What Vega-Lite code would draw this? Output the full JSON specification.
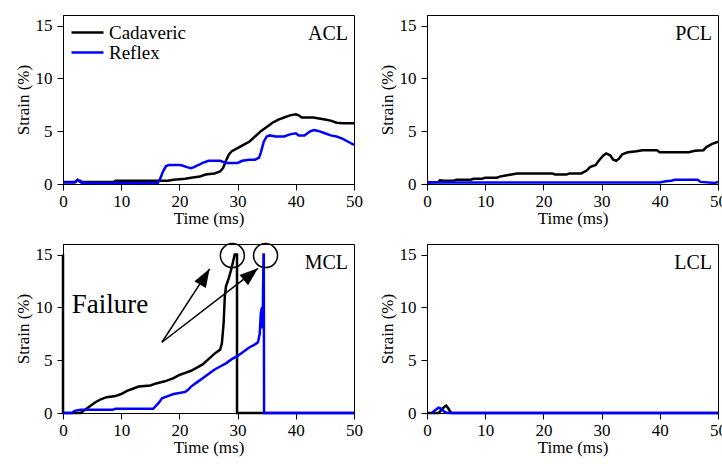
{
  "$schema": "https://vega.github.io/schema/vega-lite/v6.json",
  "background": "white",
  "autosize": {"type": "none"},
  "padding": {"left": 63, "top": 15, "right": 659, "bottom": 449},
  "config": {
    "font": "Liberation Serif",
    "view": {"stroke": "black", "strokeWidth": 1},
    "axis": {
      "grid": false, "labelFlush": false, "labelOverlap": false, "domainColor": "black", "tickColor": "black", "tickSize": 6,
      "labelFont": "Liberation Serif", "labelFontSize": 17, "labelColor": "black",
      "titleFont": "Liberation Serif", "titleFontSize": 17, "titleFontWeight": "normal", "titleColor": "black"
    },
    "axisX": {"labelPadding": 3, "titlePadding": 1},
    "axisY": {"labelPadding": 5, "titlePadding": 3},
    "style": {
      "guide-label": {"font": "Liberation Serif", "fontSize": 17, "fill": "black"},
      "guide-title": {"font": "Liberation Serif", "fontSize": 17, "fontWeight": "normal", "fill": "black"}
    }
  },
  "datasets": {
    "strain": [
      {"lig":"ACL","grp":"Cadaveric","t":0,"s":0.2},{"lig":"ACL","grp":"Cadaveric","t":2.2,"s":0.2},{"lig":"ACL","grp":"Cadaveric","t":2.5,"s":0.4},{"lig":"ACL","grp":"Cadaveric","t":3,"s":0.2},{"lig":"ACL","grp":"Cadaveric","t":8.8,"s":0.2},{"lig":"ACL","grp":"Cadaveric","t":9,"s":0.3},{"lig":"ACL","grp":"Cadaveric","t":18,"s":0.3},{"lig":"ACL","grp":"Cadaveric","t":19,"s":0.4},{"lig":"ACL","grp":"Cadaveric","t":21,"s":0.5},{"lig":"ACL","grp":"Cadaveric","t":22,"s":0.6},{"lig":"ACL","grp":"Cadaveric","t":23.5,"s":0.7},{"lig":"ACL","grp":"Cadaveric","t":24.5,"s":0.9},{"lig":"ACL","grp":"Cadaveric","t":26,"s":1.0},{"lig":"ACL","grp":"Cadaveric","t":27,"s":1.2},{"lig":"ACL","grp":"Cadaveric","t":27.5,"s":1.5},{"lig":"ACL","grp":"Cadaveric","t":28,"s":2.2},{"lig":"ACL","grp":"Cadaveric","t":28.5,"s":2.8},{"lig":"ACL","grp":"Cadaveric","t":29,"s":3.1},{"lig":"ACL","grp":"Cadaveric","t":30,"s":3.4},{"lig":"ACL","grp":"Cadaveric","t":31,"s":3.7},{"lig":"ACL","grp":"Cadaveric","t":32,"s":4.0},{"lig":"ACL","grp":"Cadaveric","t":33,"s":4.5},{"lig":"ACL","grp":"Cadaveric","t":34,"s":5.0},{"lig":"ACL","grp":"Cadaveric","t":35,"s":5.4},{"lig":"ACL","grp":"Cadaveric","t":36,"s":5.8},{"lig":"ACL","grp":"Cadaveric","t":37,"s":6.1},{"lig":"ACL","grp":"Cadaveric","t":38,"s":6.3},{"lig":"ACL","grp":"Cadaveric","t":39,"s":6.5},{"lig":"ACL","grp":"Cadaveric","t":40,"s":6.6},{"lig":"ACL","grp":"Cadaveric","t":40.5,"s":6.5},{"lig":"ACL","grp":"Cadaveric","t":41,"s":6.3},{"lig":"ACL","grp":"Cadaveric","t":43,"s":6.3},{"lig":"ACL","grp":"Cadaveric","t":44,"s":6.2},{"lig":"ACL","grp":"Cadaveric","t":45,"s":6.1},{"lig":"ACL","grp":"Cadaveric","t":46,"s":6.0},{"lig":"ACL","grp":"Cadaveric","t":47,"s":5.8},{"lig":"ACL","grp":"Cadaveric","t":48,"s":5.75},{"lig":"ACL","grp":"Cadaveric","t":50,"s":5.75},
      {"lig":"ACL","grp":"Reflex","t":0,"s":0.15},{"lig":"ACL","grp":"Reflex","t":2,"s":0.15},{"lig":"ACL","grp":"Reflex","t":2.3,"s":0.3},{"lig":"ACL","grp":"Reflex","t":3,"s":0.3},{"lig":"ACL","grp":"Reflex","t":3.2,"s":0.1},{"lig":"ACL","grp":"Reflex","t":16.3,"s":0.1},{"lig":"ACL","grp":"Reflex","t":16.7,"s":0.5},{"lig":"ACL","grp":"Reflex","t":17.2,"s":1.2},{"lig":"ACL","grp":"Reflex","t":17.7,"s":1.7},{"lig":"ACL","grp":"Reflex","t":18.2,"s":1.8},{"lig":"ACL","grp":"Reflex","t":20,"s":1.8},{"lig":"ACL","grp":"Reflex","t":20.5,"s":1.75},{"lig":"ACL","grp":"Reflex","t":21.3,"s":1.6},{"lig":"ACL","grp":"Reflex","t":22,"s":1.5},{"lig":"ACL","grp":"Reflex","t":22.5,"s":1.6},{"lig":"ACL","grp":"Reflex","t":23.3,"s":1.8},{"lig":"ACL","grp":"Reflex","t":24,"s":2.0},{"lig":"ACL","grp":"Reflex","t":25,"s":2.2},{"lig":"ACL","grp":"Reflex","t":27,"s":2.2},{"lig":"ACL","grp":"Reflex","t":27.5,"s":2.1},{"lig":"ACL","grp":"Reflex","t":28,"s":2.0},{"lig":"ACL","grp":"Reflex","t":30,"s":2.0},{"lig":"ACL","grp":"Reflex","t":30.8,"s":2.2},{"lig":"ACL","grp":"Reflex","t":32,"s":2.3},{"lig":"ACL","grp":"Reflex","t":33,"s":2.3},{"lig":"ACL","grp":"Reflex","t":33.7,"s":2.5},{"lig":"ACL","grp":"Reflex","t":34,"s":3.0},{"lig":"ACL","grp":"Reflex","t":34.5,"s":4.0},{"lig":"ACL","grp":"Reflex","t":35,"s":4.5},{"lig":"ACL","grp":"Reflex","t":35.5,"s":4.6},{"lig":"ACL","grp":"Reflex","t":36.5,"s":4.5},{"lig":"ACL","grp":"Reflex","t":38,"s":4.5},{"lig":"ACL","grp":"Reflex","t":39,"s":4.7},{"lig":"ACL","grp":"Reflex","t":40,"s":4.8},{"lig":"ACL","grp":"Reflex","t":40.5,"s":4.6},{"lig":"ACL","grp":"Reflex","t":41.5,"s":4.6},{"lig":"ACL","grp":"Reflex","t":42,"s":4.8},{"lig":"ACL","grp":"Reflex","t":42.5,"s":5.0},{"lig":"ACL","grp":"Reflex","t":43.2,"s":5.1},{"lig":"ACL","grp":"Reflex","t":44,"s":5.0},{"lig":"ACL","grp":"Reflex","t":45,"s":4.8},{"lig":"ACL","grp":"Reflex","t":46,"s":4.6},{"lig":"ACL","grp":"Reflex","t":47,"s":4.5},{"lig":"ACL","grp":"Reflex","t":48,"s":4.3},{"lig":"ACL","grp":"Reflex","t":49,"s":4.0},{"lig":"ACL","grp":"Reflex","t":50,"s":3.7},
      {"lig":"PCL","grp":"Cadaveric","t":0,"s":0.15},{"lig":"PCL","grp":"Cadaveric","t":2,"s":0.2},{"lig":"PCL","grp":"Cadaveric","t":2.2,"s":0.35},{"lig":"PCL","grp":"Cadaveric","t":3,"s":0.3},{"lig":"PCL","grp":"Cadaveric","t":4.5,"s":0.3},{"lig":"PCL","grp":"Cadaveric","t":5,"s":0.4},{"lig":"PCL","grp":"Cadaveric","t":7.5,"s":0.4},{"lig":"PCL","grp":"Cadaveric","t":8,"s":0.5},{"lig":"PCL","grp":"Cadaveric","t":9.5,"s":0.5},{"lig":"PCL","grp":"Cadaveric","t":10,"s":0.6},{"lig":"PCL","grp":"Cadaveric","t":12,"s":0.6},{"lig":"PCL","grp":"Cadaveric","t":12.5,"s":0.7},{"lig":"PCL","grp":"Cadaveric","t":13.5,"s":0.8},{"lig":"PCL","grp":"Cadaveric","t":14.5,"s":0.9},{"lig":"PCL","grp":"Cadaveric","t":15.5,"s":1.0},{"lig":"PCL","grp":"Cadaveric","t":21.5,"s":1.0},{"lig":"PCL","grp":"Cadaveric","t":22,"s":0.9},{"lig":"PCL","grp":"Cadaveric","t":24,"s":0.9},{"lig":"PCL","grp":"Cadaveric","t":24.5,"s":1.0},{"lig":"PCL","grp":"Cadaveric","t":26.5,"s":1.0},{"lig":"PCL","grp":"Cadaveric","t":27.5,"s":1.3},{"lig":"PCL","grp":"Cadaveric","t":28,"s":1.6},{"lig":"PCL","grp":"Cadaveric","t":29,"s":1.8},{"lig":"PCL","grp":"Cadaveric","t":29.5,"s":2.2},{"lig":"PCL","grp":"Cadaveric","t":30.3,"s":2.7},{"lig":"PCL","grp":"Cadaveric","t":30.8,"s":2.9},{"lig":"PCL","grp":"Cadaveric","t":31.5,"s":2.7},{"lig":"PCL","grp":"Cadaveric","t":32,"s":2.3},{"lig":"PCL","grp":"Cadaveric","t":32.5,"s":2.2},{"lig":"PCL","grp":"Cadaveric","t":33,"s":2.4},{"lig":"PCL","grp":"Cadaveric","t":33.5,"s":2.8},{"lig":"PCL","grp":"Cadaveric","t":34.5,"s":3.0},{"lig":"PCL","grp":"Cadaveric","t":36,"s":3.1},{"lig":"PCL","grp":"Cadaveric","t":37,"s":3.2},{"lig":"PCL","grp":"Cadaveric","t":39.5,"s":3.2},{"lig":"PCL","grp":"Cadaveric","t":40,"s":3.0},{"lig":"PCL","grp":"Cadaveric","t":45,"s":3.0},{"lig":"PCL","grp":"Cadaveric","t":46,"s":3.15},{"lig":"PCL","grp":"Cadaveric","t":47.5,"s":3.2},{"lig":"PCL","grp":"Cadaveric","t":48,"s":3.5},{"lig":"PCL","grp":"Cadaveric","t":49,"s":3.8},{"lig":"PCL","grp":"Cadaveric","t":50,"s":4.0},
      {"lig":"PCL","grp":"Reflex","t":0,"s":0.15},{"lig":"PCL","grp":"Reflex","t":40,"s":0.15},{"lig":"PCL","grp":"Reflex","t":41,"s":0.25},{"lig":"PCL","grp":"Reflex","t":42,"s":0.3},{"lig":"PCL","grp":"Reflex","t":42.5,"s":0.4},{"lig":"PCL","grp":"Reflex","t":46.5,"s":0.4},{"lig":"PCL","grp":"Reflex","t":47,"s":0.2},{"lig":"PCL","grp":"Reflex","t":49.5,"s":0.1},{"lig":"PCL","grp":"Reflex","t":50,"s":0.2},
      {"lig":"MCL","grp":"Cadaveric","t":0,"s":15},{"lig":"MCL","grp":"Cadaveric","t":0,"s":0},{"lig":"MCL","grp":"Cadaveric","t":3,"s":0},{"lig":"MCL","grp":"Cadaveric","t":3.5,"s":0.2},{"lig":"MCL","grp":"Cadaveric","t":4.5,"s":0.6},{"lig":"MCL","grp":"Cadaveric","t":5.5,"s":1.0},{"lig":"MCL","grp":"Cadaveric","t":6.5,"s":1.3},{"lig":"MCL","grp":"Cadaveric","t":7.5,"s":1.5},{"lig":"MCL","grp":"Cadaveric","t":9,"s":1.6},{"lig":"MCL","grp":"Cadaveric","t":10,"s":1.8},{"lig":"MCL","grp":"Cadaveric","t":11,"s":2.1},{"lig":"MCL","grp":"Cadaveric","t":12,"s":2.3},{"lig":"MCL","grp":"Cadaveric","t":13,"s":2.5},{"lig":"MCL","grp":"Cadaveric","t":15,"s":2.6},{"lig":"MCL","grp":"Cadaveric","t":16,"s":2.8},{"lig":"MCL","grp":"Cadaveric","t":17.5,"s":3.0},{"lig":"MCL","grp":"Cadaveric","t":19,"s":3.3},{"lig":"MCL","grp":"Cadaveric","t":20,"s":3.6},{"lig":"MCL","grp":"Cadaveric","t":21,"s":3.8},{"lig":"MCL","grp":"Cadaveric","t":22,"s":4.0},{"lig":"MCL","grp":"Cadaveric","t":23,"s":4.3},{"lig":"MCL","grp":"Cadaveric","t":24,"s":4.6},{"lig":"MCL","grp":"Cadaveric","t":25,"s":5.1},{"lig":"MCL","grp":"Cadaveric","t":26,"s":5.6},{"lig":"MCL","grp":"Cadaveric","t":27,"s":6.0},{"lig":"MCL","grp":"Cadaveric","t":27.3,"s":6.6},{"lig":"MCL","grp":"Cadaveric","t":27.6,"s":8.5},{"lig":"MCL","grp":"Cadaveric","t":27.8,"s":11.0},{"lig":"MCL","grp":"Cadaveric","t":28,"s":12.0},{"lig":"MCL","grp":"Cadaveric","t":28.5,"s":12.8},{"lig":"MCL","grp":"Cadaveric","t":29,"s":13.8},{"lig":"MCL","grp":"Cadaveric","t":29.5,"s":15},{"lig":"MCL","grp":"Cadaveric","t":29.9,"s":15},{"lig":"MCL","grp":"Cadaveric","t":29.9,"s":0},{"lig":"MCL","grp":"Cadaveric","t":50,"s":0},
      {"lig":"MCL","grp":"Reflex","t":0,"s":0},{"lig":"MCL","grp":"Reflex","t":1.5,"s":0},{"lig":"MCL","grp":"Reflex","t":2,"s":0.2},{"lig":"MCL","grp":"Reflex","t":3,"s":0.3},{"lig":"MCL","grp":"Reflex","t":8.5,"s":0.3},{"lig":"MCL","grp":"Reflex","t":9,"s":0.4},{"lig":"MCL","grp":"Reflex","t":15.5,"s":0.4},{"lig":"MCL","grp":"Reflex","t":16,"s":0.7},{"lig":"MCL","grp":"Reflex","t":16.5,"s":1.0},{"lig":"MCL","grp":"Reflex","t":17,"s":1.4},{"lig":"MCL","grp":"Reflex","t":18,"s":1.6},{"lig":"MCL","grp":"Reflex","t":19,"s":1.8},{"lig":"MCL","grp":"Reflex","t":20,"s":1.9},{"lig":"MCL","grp":"Reflex","t":21,"s":2.0},{"lig":"MCL","grp":"Reflex","t":21.5,"s":2.2},{"lig":"MCL","grp":"Reflex","t":22,"s":2.5},{"lig":"MCL","grp":"Reflex","t":23,"s":2.9},{"lig":"MCL","grp":"Reflex","t":24,"s":3.3},{"lig":"MCL","grp":"Reflex","t":25,"s":3.7},{"lig":"MCL","grp":"Reflex","t":26,"s":4.1},{"lig":"MCL","grp":"Reflex","t":27,"s":4.4},{"lig":"MCL","grp":"Reflex","t":28,"s":4.7},{"lig":"MCL","grp":"Reflex","t":29,"s":5.1},{"lig":"MCL","grp":"Reflex","t":30,"s":5.4},{"lig":"MCL","grp":"Reflex","t":31,"s":5.8},{"lig":"MCL","grp":"Reflex","t":32,"s":6.2},{"lig":"MCL","grp":"Reflex","t":33,"s":6.5},{"lig":"MCL","grp":"Reflex","t":33.5,"s":6.7},{"lig":"MCL","grp":"Reflex","t":33.8,"s":7.5},{"lig":"MCL","grp":"Reflex","t":34,"s":9.5},{"lig":"MCL","grp":"Reflex","t":34.2,"s":10},{"lig":"MCL","grp":"Reflex","t":34.3,"s":8},{"lig":"MCL","grp":"Reflex","t":34.45,"s":15},{"lig":"MCL","grp":"Reflex","t":34.5,"s":15},{"lig":"MCL","grp":"Reflex","t":34.55,"s":0},{"lig":"MCL","grp":"Reflex","t":50,"s":0},
      {"lig":"LCL","grp":"Cadaveric","t":0,"s":0},{"lig":"LCL","grp":"Cadaveric","t":2,"s":0},{"lig":"LCL","grp":"Cadaveric","t":2.5,"s":0.3},{"lig":"LCL","grp":"Cadaveric","t":3,"s":0.6},{"lig":"LCL","grp":"Cadaveric","t":3.3,"s":0.7},{"lig":"LCL","grp":"Cadaveric","t":3.7,"s":0.4},{"lig":"LCL","grp":"Cadaveric","t":4,"s":0.1},{"lig":"LCL","grp":"Cadaveric","t":4.3,"s":0},{"lig":"LCL","grp":"Cadaveric","t":50,"s":0},
      {"lig":"LCL","grp":"Reflex","t":0.8,"s":0},{"lig":"LCL","grp":"Reflex","t":1.5,"s":0.3},{"lig":"LCL","grp":"Reflex","t":2,"s":0.5},{"lig":"LCL","grp":"Reflex","t":2.5,"s":0.4},{"lig":"LCL","grp":"Reflex","t":3,"s":0.1},{"lig":"LCL","grp":"Reflex","t":3.5,"s":0},{"lig":"LCL","grp":"Reflex","t":50,"s":0}
    ]
  },
  "columns": 2,
  "spacing": {"row": 60, "column": 73},
  "bounds": "flush",
  "resolve": {"scale": {"color": "independent"}, "legend": {"color": "independent"}},
  "concat": [
    {
      "width": 291, "height": 169,
      "layer": [
        {
          "data": {"name": "strain"},
          "transform": [{"filter": "datum.lig === 'ACL'"}],
          "mark": {"type": "line", "strokeWidth": 2.5},
          "encoding": {
            "x": {"field": "t", "type": "quantitative", "scale": {"domain": [0, 50]}, "axis": {"values": [0,10,20,30,40,50], "title": "Time (ms)", "labelFont": "Liberation Serif", "labelFontSize": 17, "titleFont": "Liberation Serif", "titleFontSize": 17, "titleFontWeight": "normal", "encode": {"labels": {"update": {"font": {"value": "Liberation Serif"}, "fontSize": {"value": 17}}}, "title": {"update": {"font": {"value": "Liberation Serif"}, "fontSize": {"value": 17}, "fontWeight": {"value": "normal"}}}}}},
            "y": {"field": "s", "type": "quantitative", "scale": {"domain": [0, 15]}, "axis": {"values": [0,5,10,15], "title": "Strain (%)", "labelFont": "Liberation Serif", "labelFontSize": 17, "titleFont": "Liberation Serif", "titleFontSize": 17, "titleFontWeight": "normal", "encode": {"labels": {"update": {"font": {"value": "Liberation Serif"}, "fontSize": {"value": 17}}}, "title": {"update": {"font": {"value": "Liberation Serif"}, "fontSize": {"value": 17}, "fontWeight": {"value": "normal"}}}}}},
            "color": {"field": "grp", "type": "nominal", "scale": {"domain": ["Cadaveric","Reflex"], "range": ["#000000","#0000ff"]},
              "legend": {"orient": "none", "legendX": 15, "legendY": 8, "title": null, "symbolType": "M-2,0H2", "symbolSize": 256, "symbolStrokeWidth": 2.5, "labelFont": "Liberation Serif", "labelFontSize": 19, "labelColor": "black", "labelOffset": 12, "rowPadding": 0, "padding": 0}},
            "order": {"value": null}
          }
        },
        {
          "data": {"values": [{"name": "ACL"}]},
          "mark": {"type": "text", "font": "Liberation Serif", "fontSize": 20, "align": "right", "baseline": "middle", "dx": -6, "dy": 8, "color": "black"},
          "encoding": {"x": {"datum": 50, "type": "quantitative"}, "y": {"datum": 15, "type": "quantitative"}, "text": {"field": "name"}}
        }
      ]
    },
    {
      "width": 291, "height": 169,
      "layer": [
        {
          "data": {"name": "strain"},
          "transform": [{"filter": "datum.lig === 'PCL'"}],
          "mark": {"type": "line", "strokeWidth": 2.5},
          "encoding": {
            "x": {"field": "t", "type": "quantitative", "scale": {"domain": [0, 50]}, "axis": {"values": [0,10,20,30,40,50], "title": "Time (ms)", "labelFont": "Liberation Serif", "labelFontSize": 17, "titleFont": "Liberation Serif", "titleFontSize": 17, "titleFontWeight": "normal", "encode": {"labels": {"update": {"font": {"value": "Liberation Serif"}, "fontSize": {"value": 17}}}, "title": {"update": {"font": {"value": "Liberation Serif"}, "fontSize": {"value": 17}, "fontWeight": {"value": "normal"}}}}}},
            "y": {"field": "s", "type": "quantitative", "scale": {"domain": [0, 15]}, "axis": {"values": [0,5,10,15], "title": "Strain (%)", "labelFont": "Liberation Serif", "labelFontSize": 17, "titleFont": "Liberation Serif", "titleFontSize": 17, "titleFontWeight": "normal", "encode": {"labels": {"update": {"font": {"value": "Liberation Serif"}, "fontSize": {"value": 17}}}, "title": {"update": {"font": {"value": "Liberation Serif"}, "fontSize": {"value": 17}, "fontWeight": {"value": "normal"}}}}}},
            "color": {"field": "grp", "type": "nominal", "scale": {"domain": ["Cadaveric","Reflex"], "range": ["#000000","#0000ff"]}, "legend": null},
            "order": {"value": null}
          }
        },
        {
          "data": {"values": [{"name": "PCL"}]},
          "mark": {"type": "text", "font": "Liberation Serif", "fontSize": 20, "align": "right", "baseline": "middle", "dx": -6, "dy": 8, "color": "black"},
          "encoding": {"x": {"datum": 50, "type": "quantitative"}, "y": {"datum": 15, "type": "quantitative"}, "text": {"field": "name"}}
        }
      ]
    },
    {
      "width": 291, "height": 169,
      "layer": [
        {
          "data": {"name": "strain"},
          "transform": [{"filter": "datum.lig === 'MCL'"}],
          "mark": {"type": "line", "strokeWidth": 2.5},
          "encoding": {
            "x": {"field": "t", "type": "quantitative", "scale": {"domain": [0, 50]}, "axis": {"values": [0,10,20,30,40,50], "title": "Time (ms)", "labelFont": "Liberation Serif", "labelFontSize": 17, "titleFont": "Liberation Serif", "titleFontSize": 17, "titleFontWeight": "normal", "encode": {"labels": {"update": {"font": {"value": "Liberation Serif"}, "fontSize": {"value": 17}}}, "title": {"update": {"font": {"value": "Liberation Serif"}, "fontSize": {"value": 17}, "fontWeight": {"value": "normal"}}}}}},
            "y": {"field": "s", "type": "quantitative", "scale": {"domain": [0, 15]}, "axis": {"values": [0,5,10,15], "title": "Strain (%)", "labelFont": "Liberation Serif", "labelFontSize": 17, "titleFont": "Liberation Serif", "titleFontSize": 17, "titleFontWeight": "normal", "encode": {"labels": {"update": {"font": {"value": "Liberation Serif"}, "fontSize": {"value": 17}}}, "title": {"update": {"font": {"value": "Liberation Serif"}, "fontSize": {"value": 17}, "fontWeight": {"value": "normal"}}}}}},
            "color": {"field": "grp", "type": "nominal", "scale": {"domain": ["Cadaveric","Reflex"], "range": ["#000000","#0000ff"]}, "legend": null},
            "order": {"value": null}
          }
        },
        {
          "data": {"values": [{"name": "MCL"}]},
          "mark": {"type": "text", "font": "Liberation Serif", "fontSize": 20, "align": "right", "baseline": "middle", "dx": -6, "dy": 8, "color": "black"},
          "encoding": {"x": {"datum": 50, "type": "quantitative"}, "y": {"datum": 15, "type": "quantitative"}, "text": {"field": "name"}}
        },
        {
          "data": {"values": [{"t": 1.5, "s": 10.2, "note": "Failure"}]},
          "mark": {"type": "text", "font": "Liberation Serif", "fontSize": 27, "align": "left", "baseline": "middle", "color": "black"},
          "encoding": {"x": {"field": "t", "type": "quantitative"}, "y": {"field": "s", "type": "quantitative"}, "text": {"field": "note"}}
        },
        {
          "data": {"values": [{"t": 17.0, "s": 6.7, "t2": 25.2, "s2": 13.65}, {"t": 17.0, "s": 6.7, "t2": 33.5, "s2": 13.7}]},
          "mark": {"type": "rule", "color": "black", "strokeWidth": 1.5},
          "encoding": {"x": {"field": "t", "type": "quantitative"}, "y": {"field": "s", "type": "quantitative"}, "x2": {"field": "t2"}, "y2": {"field": "s2"}}
        },
        {
          "data": {"values": [{"t": 25.2, "s": 13.65}]},
          "mark": {"type": "point", "shape": "M0,0L0.36,1L-0.36,1Z", "size": 1369, "filled": true, "color": "black", "opacity": 1, "angle": 31},
          "encoding": {"x": {"field": "t", "type": "quantitative"}, "y": {"field": "s", "type": "quantitative"}}
        },
        {
          "data": {"values": [{"t": 33.5, "s": 13.7}]},
          "mark": {"type": "point", "shape": "M0,0L0.36,1L-0.36,1Z", "size": 1369, "filled": true, "color": "black", "opacity": 1, "angle": 50},
          "encoding": {"x": {"field": "t", "type": "quantitative"}, "y": {"field": "s", "type": "quantitative"}}
        },
        {
          "data": {"values": [{"t": 29.1, "s": 14.9}, {"t": 34.8, "s": 14.9}]},
          "mark": {"type": "point", "shape": "circle", "size": 576, "filled": false, "color": "black", "strokeWidth": 1.5, "opacity": 1},
          "encoding": {"x": {"field": "t", "type": "quantitative"}, "y": {"field": "s", "type": "quantitative"}}
        }
      ]
    },
    {
      "width": 291, "height": 169,
      "layer": [
        {
          "data": {"name": "strain"},
          "transform": [{"filter": "datum.lig === 'LCL'"}],
          "mark": {"type": "line", "strokeWidth": 2.5},
          "encoding": {
            "x": {"field": "t", "type": "quantitative", "scale": {"domain": [0, 50]}, "axis": {"values": [0,10,20,30,40,50], "title": "Time (ms)", "labelFont": "Liberation Serif", "labelFontSize": 17, "titleFont": "Liberation Serif", "titleFontSize": 17, "titleFontWeight": "normal", "encode": {"labels": {"update": {"font": {"value": "Liberation Serif"}, "fontSize": {"value": 17}}}, "title": {"update": {"font": {"value": "Liberation Serif"}, "fontSize": {"value": 17}, "fontWeight": {"value": "normal"}}}}}},
            "y": {"field": "s", "type": "quantitative", "scale": {"domain": [0, 15]}, "axis": {"values": [0,5,10,15], "title": "Strain (%)", "labelFont": "Liberation Serif", "labelFontSize": 17, "titleFont": "Liberation Serif", "titleFontSize": 17, "titleFontWeight": "normal", "encode": {"labels": {"update": {"font": {"value": "Liberation Serif"}, "fontSize": {"value": 17}}}, "title": {"update": {"font": {"value": "Liberation Serif"}, "fontSize": {"value": 17}, "fontWeight": {"value": "normal"}}}}}},
            "color": {"field": "grp", "type": "nominal", "scale": {"domain": ["Cadaveric","Reflex"], "range": ["#000000","#0000ff"]}, "legend": null},
            "order": {"value": null}
          }
        },
        {
          "data": {"values": [{"name": "LCL"}]},
          "mark": {"type": "text", "font": "Liberation Serif", "fontSize": 20, "align": "right", "baseline": "middle", "dx": -6, "dy": 8, "color": "black"},
          "encoding": {"x": {"datum": 50, "type": "quantitative"}, "y": {"datum": 15, "type": "quantitative"}, "text": {"field": "name"}}
        }
      ]
    }
  ]
}
